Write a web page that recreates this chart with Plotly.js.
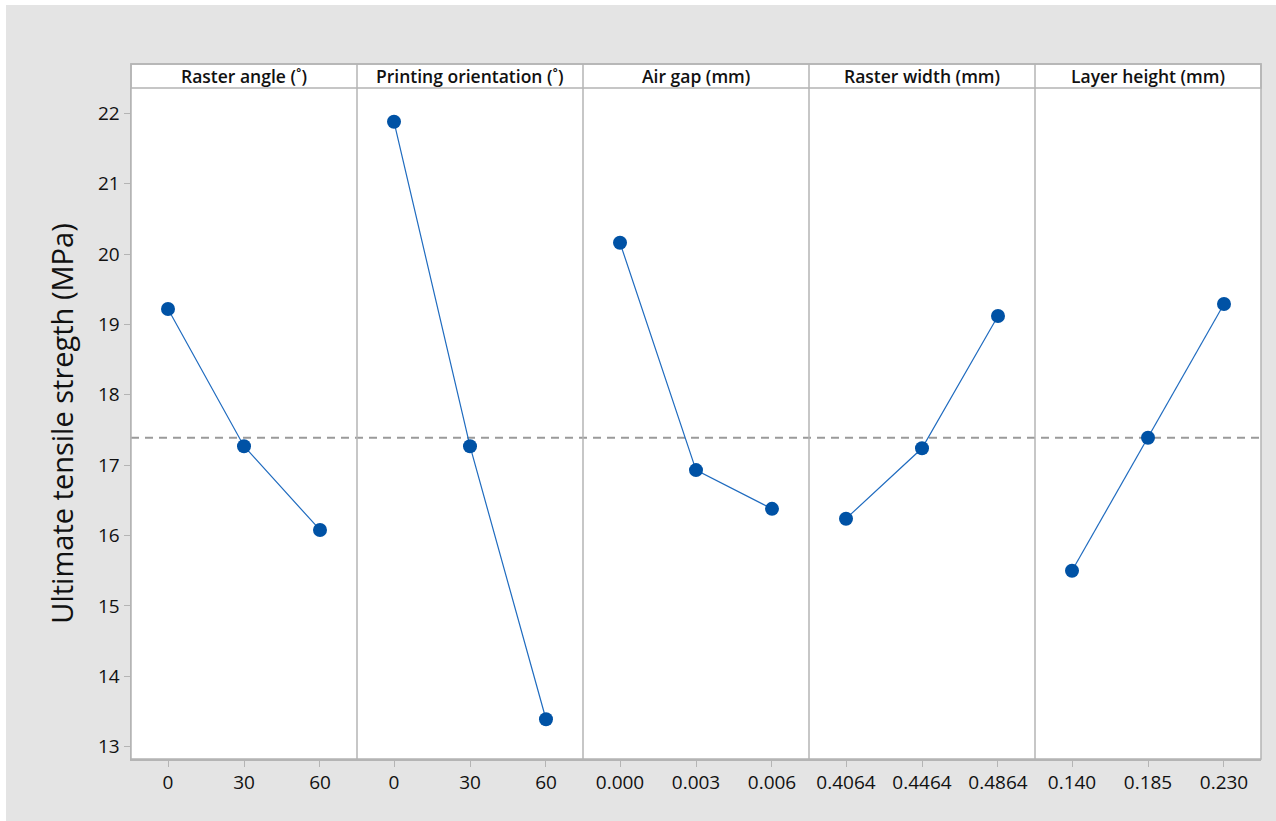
<!DOCTYPE html>
<html><head><meta charset="utf-8">
<script src="https://cdn.plot.ly/plotly-3.0.1.min.js"></script>
<style>html,body{margin:0;padding:0;background:#ffffff;}#chart{position:absolute;left:6px;top:5px;width:1270px;height:816px;}</style>
</head><body><div id="chart"></div>
<script>
const panelTitles = ["Raster angle (˚)", "Printing orientation (˚)", "Air gap (mm)", "Raster width (mm)", "Layer height (mm)"];
const levelsRaster = ["0", "30", "60"];
const levelsOrient = ["0", "30", "60"];
const levelsAirGap = ["0.000", "0.003", "0.006"];
const levelsWidth = ["0.4064", "0.4464", "0.4864"];
const levelsLayer = ["0.140", "0.185", "0.230"];
const meansRaster = [19.22, 17.27, 16.08];
const meansOrient = [21.88, 17.27, 13.39];
const meansAirGap = [20.16, 16.93, 16.38];
const meansWidth = [16.24, 17.24, 19.12];
const meansLayer = [15.50, 17.39, 19.29];
const grandMean = 17.39;
const yTitle = "Ultimate tensile stregth (MPa)";

const levels = [levelsRaster, levelsOrient, levelsAirGap, levelsWidth, levelsLayer];
const means = [meansRaster, meansOrient, meansAirGap, meansWidth, meansLayer];

const FONT = "Open Sans, Noto Sans, sans-serif";
const AXC = "#b4b4b4";
const data = [];
const layout = {
  width: 1270, height: 816,
  paper_bgcolor: "#e4e4e4", plot_bgcolor: "#ffffff",
  margin: {l: 125, r: 15, t: 83, b: 62},
  showlegend: false,
  font: {family: FONT, color: "#1a1a1a"},
  shapes: [], annotations: []
};
const n = 5;
for (let i = 0; i < n; i++) {
  const xa = i === 0 ? "x" : "x" + (i + 1);
  const key = i === 0 ? "xaxis" : "xaxis" + (i + 1);
  data.push({
    type: "scatter", mode: "lines+markers",
    x: levels[i], y: means[i], xaxis: xa, yaxis: "y",
    line: {color: "#1f6bbf", width: 1.2},
    marker: {color: "#0052a5", size: 14},
    hoverinfo: "x+y"
  });
  layout[key] = {
    domain: [i / n, (i + 1) / n],
    type: "category",
    range: [-0.487, 2.487],
    anchor: "y",
    showgrid: false, zeroline: false,
    showline: true, linecolor: AXC, linewidth: 1.5,
    ticks: "outside", ticklen: 6, tickcolor: AXC, tickwidth: 1,
    tickfont: {size: 19, family: FONT, color: "#111"},
    fixedrange: true
  };
  layout.annotations.push({
    xref: "paper", yref: "paper",
    x: (i + 0.5) / n, y: 1 + 12 / 671,
    text: panelTitles[i], showarrow: false,
    xanchor: "center", yanchor: "middle",
    font: {size: 17.5, family: FONT, color: "#111", weight: 600}
  });
  if (i > 0) {
    layout.shapes.push({
      type: "line", xref: "paper", yref: "paper",
      x0: i / n, x1: i / n, y0: 0, y1: 1 + 24 / 671,
      line: {color: AXC, width: 1.5}
    });
  }
}
layout.yaxis = {
  range: [12.825, 22.36],
  tickvals: [13, 14, 15, 16, 17, 18, 19, 20, 21, 22],
  showgrid: false, zeroline: false,
  showline: true, linecolor: AXC, linewidth: 1.5,
  ticks: "outside", ticklen: 6, tickcolor: AXC,
  tickfont: {size: 19, family: FONT, color: "#111"},
  title: {text: yTitle, font: {size: 29, family: FONT, color: "#111", weight: 500}, standoff: 16},
  fixedrange: true
};
layout.shapes.push({
  type: "rect", xref: "paper", yref: "paper",
  x0: 0, x1: 1, y0: 0, y1: 1 + 24 / 671,
  line: {color: AXC, width: 1.5}, fillcolor: "rgba(0,0,0,0)", layer: "above"
});
layout.shapes.push({
  type: "rect", xref: "paper", yref: "paper",
  x0: 0, x1: 1, y0: 1, y1: 1 + 24 / 671,
  line: {color: AXC, width: 1.5}, fillcolor: "#ffffff", layer: "below"
});
layout.shapes.push({
  type: "line", xref: "paper", yref: "y",
  x0: 0, x1: 1, y0: grandMean, y1: grandMean,
  line: {color: "#9a9a9a", width: 2, dash: "8px,6px"}, layer: "below"
});
Plotly.newPlot("chart", data, layout, {displayModeBar: false, staticPlot: true});
</script></body></html>
